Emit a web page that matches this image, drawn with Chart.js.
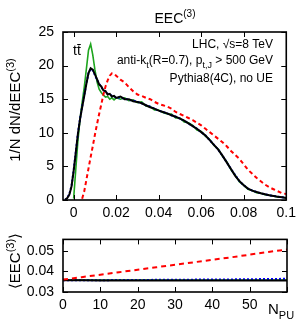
<!DOCTYPE html>
<html>
<head>
<meta charset="utf-8">
<script src="https://cdn.jsdelivr.net/npm/chart.js@4.4.1/dist/chart.umd.min.js"></script>
<style>
  html, body { margin: 0; padding: 0; background: #fff; }
  canvas { position: absolute; left: 0; }
</style>
</head>
<body>
<canvas id="top" width="301" height="222" style="top:0"></canvas>
<canvas id="bot" width="301" height="101" style="top:222px"></canvas>
<script>
// ---- top panel: EEC(3) distribution ----
const eecX = [-0.005, -0.004, -0.003, -0.002, -0.001, 0, 0.001, 0.002, 0.003, 0.004,
  0.005, 0.006, 0.007, 0.008, 0.009, 0.010, 0.011, 0.012, 0.013, 0.014,
  0.015, 0.016, 0.017, 0.018, 0.019, 0.020, 0.022, 0.024, 0.026, 0.028,
  0.030, 0.032, 0.034, 0.036, 0.038, 0.040, 0.042, 0.044, 0.046, 0.048,
  0.050, 0.052, 0.054, 0.056, 0.058, 0.060, 0.062, 0.064, 0.066, 0.068,
  0.070, 0.072, 0.074, 0.076, 0.078, 0.080, 0.082, 0.084, 0.086, 0.088,
  0.090, 0.092, 0.094, 0.096, 0.098, 0.100];

// green: no pile-up
const noPileup = [null, null, null, null, null, 0.2, 4.5, 8.8, 12.0, 14.5,
  16.8, 19.5, 22.3, 23.2, 21.6, 19.4, 17.6, 16.5, 16.0, 15.6,
  15.3, 15.4, 15.0, 15.2, 14.9, 15.2, 15.0, 15.2, 14.8, 14.9,
  14.5, 14.6, 14.0, 13.9, 13.4, 13.4, 13.0, 12.8, 12.8, 12.2,
  12.2, 11.6, 11.5, 11.1, 10.4, 10.2, 9.5, 9.0, 8.1, 7.6,
  6.5, 5.7, 4.5, 3.7, 2.7, 2.2, 1.6, 1.4, 1.1, 1.0,
  0.8, 0.7, 0.6, 0.45, 0.4, 0.3];

// black: pile-up subtracted
const subtracted = [null, 0.05, 0.3, 0.8, 2.0, 4.3, 7.0, 9.8, 12.0, 13.8,
  15.5, 17.3, 18.9, 19.6, 19.4, 18.7, 18.0, 17.2, 16.9, 16.3,
  16.2, 15.7, 15.8, 15.4, 15.5, 15.2, 15.4, 15.0, 15.0, 14.7,
  14.6, 14.4, 14.1, 13.8, 13.6, 13.3, 13.1, 12.9, 12.6, 12.4,
  12.1, 11.8, 11.4, 11.0, 10.6, 10.1, 9.6, 8.9, 8.2, 7.5,
  6.6, 5.6, 4.6, 3.6, 2.8, 2.2, 1.7, 1.4, 1.2, 1.0,
  0.85, 0.7, 0.6, 0.5, 0.4, 0.3];

// blue dotted: alternative subtraction
const subtractedAlt = [null, 0.05, 0.3, 0.9, 2.1, 4.4, 7.1, 9.9, 12.1, 13.9,
  15.6, 17.4, 18.9, 19.5, 19.3, 18.6, 17.9, 17.3, 16.8, 16.4,
  16.1, 15.8, 15.7, 15.5, 15.4, 15.3, 15.2, 15.1, 14.9, 14.8,
  14.6, 14.4, 14.1, 13.9, 13.6, 13.3, 13.1, 12.9, 12.6, 12.4,
  12.1, 11.8, 11.4, 11.0, 10.6, 10.1, 9.6, 8.9, 8.2, 7.5,
  6.6, 5.6, 4.6, 3.7, 2.8, 2.2, 1.7, 1.4, 1.2, 1.0,
  0.85, 0.7, 0.6, 0.5, 0.4, 0.3];

// red dashed: with pile-up, no subtraction
const withPileup = [null, null, null, null, null, null, null, null, null, 0.2,
  1.3, 3.0, 4.7, 6.4, 8.0, 9.7, 11.3, 12.8, 14.2, 15.7,
  16.9, 17.8, 18.5, 18.85, 18.8, 18.5, 17.9, 17.5, 16.8, 16.2,
  15.7, 15.5, 15.2, 15.0, 14.6, 14.3, 14.1, 13.9, 13.6, 13.1,
  12.8, 12.5, 12.2, 11.9, 11.5, 11.1, 10.6, 10.1, 9.6, 9.1,
  8.6, 8.0, 7.3, 6.7, 6.1, 5.3, 4.5, 3.9, 3.3, 2.8,
  2.3, 1.9, 1.6, 1.3, 1.0, 0.9];

const topXTicks = [0, 0.02, 0.04, 0.06, 0.08, 0.1];
const topXLabels = ['0', '0.02', '0.04', '0.06', '0.08', '0.1'];
const topYTicks = [0, 5, 10, 15, 20, 25];

// ---- bottom panel: mean EEC(3) vs number of pile-up vertices ----
const nPU = [0, 5, 10, 15, 20, 25, 30, 35, 40, 45, 50, 55, 60];
const meanWithPileup = [0.0360, 0.0372, 0.0384, 0.0396, 0.0408, 0.0420, 0.0432,
  0.0444, 0.0456, 0.0468, 0.0481, 0.0494, 0.0506];
const meanSubtracted = [0.0357, 0.0357, 0.0356, 0.0356, 0.0356, 0.0356, 0.0356,
  0.0356, 0.0356, 0.0356, 0.0356, 0.0356, 0.0356];
const meanSubtractedAlt = [0.0357, 0.0357, 0.0357, 0.0358, 0.0358, 0.0359, 0.0359,
  0.0360, 0.0361, 0.0361, 0.0362, 0.0363, 0.0364];
const meanNoPileup = [0.0358, 0.0358, 0.0358, 0.0358, 0.0358, 0.0358, 0.0358,
  0.0358, 0.0358, 0.0358, 0.0358, 0.0358, 0.0358];

const botXTicks = [0, 10, 20, 30, 40, 50, 60];
const botXLabels = ['0', '10', '20', '30', '40', '50', ''];
const botYTicks = [0.03, 0.04, 0.05];
const botYLabels = ['0.03', '0.04', '0.05'];

const FONT = "'Liberation Sans', Arial, sans-serif";
const GREEN = '#1ea51e';

const pts = (xs, ys) => xs.map((x, i) => ({ x: x, y: ys[i] }));

// text with sub/superscripts: parts = [[text, ''|'sub'|'sup'], ...]
function drawRich(ctx, parts, x, y, size, align) {
  const small = Math.round(size * 0.72);
  let total = 0;
  parts.forEach(p => {
    ctx.font = (p[1] ? small : size) + 'px ' + FONT;
    total += ctx.measureText(p[0]).width;
  });
  let cx = align === 'right' ? x - total : align === 'center' ? x - total / 2 : x;
  ctx.textAlign = 'left';
  ctx.textBaseline = 'alphabetic';
  parts.forEach(p => {
    ctx.font = (p[1] ? small : size) + 'px ' + FONT;
    const dy = p[1] === 'sub' ? size * 0.3 : p[1] === 'sup' ? -size * 0.42 : 0;
    ctx.fillText(p[0], cx, y + dy);
    cx += ctx.measureText(p[0]).width;
  });
}

// box around the plot and ticks pointing inward on all four sides
const framePlugin = {
  id: 'frame',
  afterDatasetsDraw(chart, args, opts) {
    const { ctx, chartArea: a } = chart;
    const sx = chart.scales.x, sy = chart.scales.y;
    ctx.save();
    ctx.strokeStyle = '#000';
    ctx.lineWidth = 1;
    ctx.beginPath();
    opts.xTicks.forEach(v => {
      const px = Math.round(sx.getPixelForValue(v)) + 0.5;
      ctx.moveTo(px, a.bottom); ctx.lineTo(px, a.bottom - 5);
      ctx.moveTo(px, a.top); ctx.lineTo(px, a.top + 5);
    });
    opts.yTicks.forEach(v => {
      const py = Math.round(sy.getPixelForValue(v)) + 0.5;
      ctx.moveTo(a.left, py); ctx.lineTo(a.left + 5, py);
      ctx.moveTo(a.right, py); ctx.lineTo(a.right - 5, py);
    });
    ctx.stroke();
    ctx.lineWidth = 1.6;
    ctx.strokeRect(a.left, a.top, a.right - a.left, a.bottom - a.top);
    ctx.fillStyle = '#000';
    if (opts.draw) opts.draw(ctx, chart);
    ctx.restore();
  }
};

function axis(min, max, ticks, labels, size, pad) {
  return {
    type: 'linear', min: min, max: max,
    grid: { display: false, drawTicks: false },
    border: { display: false },
    afterBuildTicks: s => { s.ticks = ticks.map(v => ({ value: v })); },
    afterFit: s => { if (s.isHorizontal()) s.height = size; else s.width = size; },
    ticks: {
      autoSkip: false, maxRotation: 0, padding: pad, color: '#000',
      font: { family: FONT, size: 14 },
      callback: (v, i) => labels[i]
    }
  };
}

function line(data, color, width, dash, order) {
  return {
    data: data, borderColor: color, borderWidth: width, borderDash: dash,
    pointRadius: 0, showLine: true, spanGaps: false, tension: 0, order: order
  };
}

new Chart(document.getElementById('top'), {
  type: 'scatter',
  data: {
    datasets: [
      line(pts(eecX, withPileup), '#ff0000', 2, [4, 3], 0),
      line(pts(eecX, subtracted), '#000000', 2, [], 1),
      line(pts(eecX, subtractedAlt), '#0000ff', 2, [2, 2], 2),
      line(pts(eecX, noPileup), GREEN, 1.6, [], 3)
    ]
  },
  options: {
    responsive: false, animation: false, devicePixelRatio: 1,
    layout: { padding: { left: 0, right: 14, top: 32, bottom: 0 } },
    scales: {
      x: axis(-0.005, 0.1, topXTicks, topXLabels, 22, 5),
      y: axis(0, 25, topYTicks, topYTicks.map(String), 63, 9)
    },
    plugins: {
      legend: { display: false },
      tooltip: { enabled: false },
      frame: {
        xTicks: topXTicks, yTicks: topYTicks,
        draw: (ctx, chart) => {
          drawRich(ctx, [['EEC', ''], ['(3)', 'sup']], 175, 23, 14, 'center');
          ctx.save();
          ctx.translate(20, 110);
          ctx.rotate(-Math.PI / 2);
          drawRich(ctx, [['1/N dN/dEEC', ''], ['(3)', 'sup']], 0, 0, 15, 'center');
          ctx.restore();
          // t tbar
          ctx.font = '14px ' + FONT;
          ctx.textAlign = 'left';
          ctx.fillText('tt', 73, 55);
          const w1 = ctx.measureText('t').width;
          ctx.lineWidth = 1;
          ctx.beginPath();
          ctx.moveTo(73 + w1 + 0.3, 44.5); ctx.lineTo(73 + 2 * w1, 44.5);
          ctx.stroke();
          drawRich(ctx, [['LHC, \u221As=8 TeV', '']], 273, 48, 12, 'right');
          drawRich(ctx, [['anti-k', ''], ['t', 'sub'], ['(R=0.7), p', ''], ['t,J', 'sub'], [' > 500 GeV', '']], 273, 64, 12, 'right');
          drawRich(ctx, [['Pythia8(4C), no UE', '']], 273, 82, 12, 'right');
        }
      }
    }
  },
  plugins: [framePlugin]
});

new Chart(document.getElementById('bot'), {
  type: 'scatter',
  data: {
    datasets: [
      line(pts(nPU, meanWithPileup), '#ff0000', 2, [5, 4], 0),
      line(pts(nPU, meanSubtracted), '#000000', 2, [], 1),
      line(pts(nPU, meanSubtractedAlt), '#0000ff', 2, [2, 2], 2),
      line(pts(nPU, meanNoPileup), GREEN, 1.6, [], 3)
    ]
  },
  options: {
    responsive: false, animation: false, devicePixelRatio: 1,
    layout: { padding: { left: 0, right: 14, top: 9, bottom: 0 } },
    scales: {
      x: axis(0, 60, botXTicks, botXLabels, 31, 5),
      y: axis(0.03, 0.0555, botYTicks, botYLabels, 63, 9)
    },
    plugins: {
      legend: { display: false },
      tooltip: { enabled: false },
      frame: {
        xTicks: botXTicks, yTicks: botYTicks,
        draw: (ctx, chart) => {
          ctx.save();
          ctx.translate(20, 39);
          ctx.rotate(-Math.PI / 2);
          drawRich(ctx, [['\u27E8EEC', ''], ['(3)', 'sup'], ['\u27E9', '']], 0, 0, 15, 'center');
          ctx.restore();
          drawRich(ctx, [['N', ''], ['PU', 'sub']], 268, 92, 15, 'left');
        }
      }
    }
  },
  plugins: [framePlugin]
});
</script>
</body>
</html>
